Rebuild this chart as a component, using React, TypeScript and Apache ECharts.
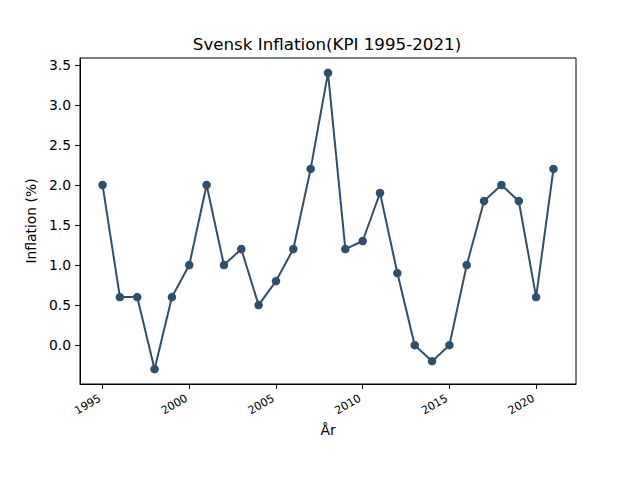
import React, { useEffect, useRef } from "react";
import * as echarts from "echarts";

const years = [1995, 1996, 1997, 1998, 1999, 2000, 2001, 2002, 2003, 2004, 2005, 2006, 2007, 2008, 2009, 2010, 2011, 2012, 2013, 2014, 2015, 2016, 2017, 2018, 2019, 2020, 2021];
const inflation = [2.0, 0.6, 0.6, -0.3, 0.6, 1.0, 2.0, 1.0, 1.2, 0.5, 0.8, 1.2, 2.2, 3.4, 1.2, 1.3, 1.9, 0.9, 0.0, -0.2, 0.0, 1.0, 1.8, 2.0, 1.8, 0.6, 2.2];
const xTicks = [1995, 2000, 2005, 2010, 2015, 2020];
const yTicks = [0, 0.5, 1.0, 1.5, 2.0, 2.5, 3.0, 3.5];

const FONT = "DejaVu Sans";
const COLOR = "#2e5070";

export default function App() {
  const ref = useRef<HTMLDivElement>(null);
  useEffect(() => {
    document.body.style.margin = "0";
    const chart = echarts.init(ref.current!, null, { renderer: "svg" });
    const yMinD = Math.min(...inflation);
    const yMaxD = Math.max(...inflation);
    const yPad = (yMaxD - yMinD) * 0.05;
    const xPad = (years[years.length - 1] - years[0]) * 0.05;
    chart.setOption({
      animation: false,
      backgroundColor: "#ffffff",
      title: {
        text: "Svensk Inflation(KPI 1995-2021)",
        left: 322,
        textAlign: "center",
        top: 30,
        textStyle: { fontFamily: FONT, fontSize: 16.7, fontWeight: "normal", color: "#000" },
      },
      grid: {
        left: 80,
        right: 64,
        top: 58,
        bottom: 96,
        show: true,
        borderColor: "#000",
        borderWidth: 1,
        backgroundColor: "transparent",
      },
      xAxis: {
        type: "value",
        min: years[0] - xPad,
        max: years[years.length - 1] + xPad,
        name: "År",
        nameLocation: "middle",
        nameGap: 38,
        nameTextStyle: { fontFamily: FONT, fontSize: 13.9, color: "#000" },
        axisLine: { show: true, onZero: false, lineStyle: { color: "#000", width: 1 } },
        axisTick: { show: true, length: 4.9, customValues: xTicks, lineStyle: { color: "#000" } },
        axisLabel: {
          customValues: xTicks,
          rotate: 30,
          fontFamily: FONT,
          fontSize: 11.1,
          color: "#000",
          margin: 12,
          padding: [0, 3, 0, 0],
          formatter: (v: number) => String(v),
        },
        splitLine: { show: false },
      },
      yAxis: {
        type: "value",
        min: yMinD - yPad,
        max: yMaxD + yPad,
        name: "Inflation (%)",
        nameLocation: "middle",
        nameGap: 37,
        nameTextStyle: { fontFamily: FONT, fontSize: 13.9, color: "#000" },
        axisLine: { show: true, onZero: false, lineStyle: { color: "#000", width: 1 } },
        axisTick: { show: true, length: 4.9, customValues: yTicks, lineStyle: { color: "#000" } },
        axisLabel: {
          customValues: yTicks,
          fontFamily: FONT,
          fontSize: 13.9,
          color: "#000",
          margin: 9,
          formatter: (v: number) => v.toFixed(1),
        },
        splitLine: { show: false },
      },
      series: [
        {
          type: "line",
          data: years.map((y, i) => [y, inflation[i]]),
          symbol: "circle",
          symbolSize: 8.5,
          showSymbol: true,
          itemStyle: { color: COLOR },
          lineStyle: { color: COLOR, width: 2 },
        },
      ],
    });
    return () => chart.dispose();
  }, []);
  return <div ref={ref} style={{ width: 640, height: 480 }} />;
}
